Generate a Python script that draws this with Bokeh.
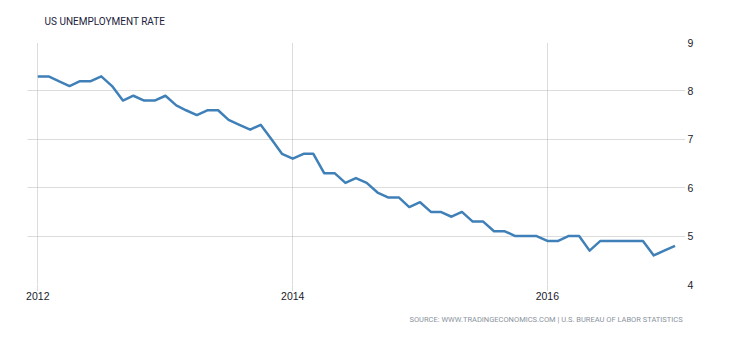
import pandas as pd
from datetime import datetime
from bokeh.plotting import figure
from bokeh.models import Range1d, FixedTicker, Title
from bokeh.embed import file_html
from bokeh.resources import INLINE

# Monthly US unemployment rate, Jan 2012 - Jan 2017
rate = [8.3, 8.3, 8.2, 8.1, 8.2, 8.2, 8.3, 8.1, 7.8, 7.9, 7.8, 7.8,
        7.9, 7.7, 7.6, 7.5, 7.6, 7.6, 7.4, 7.3, 7.2, 7.3, 7.0, 6.7,
        6.6, 6.7, 6.7, 6.3, 6.3, 6.1, 6.2, 6.1, 5.9, 5.8, 5.8, 5.6,
        5.7, 5.5, 5.5, 5.4, 5.5, 5.3, 5.3, 5.1, 5.1, 5.0, 5.0, 5.0,
        4.9, 4.9, 5.0, 5.0, 4.7, 4.9, 4.9, 4.9, 4.9, 4.9, 4.6, 4.7,
        4.8]
months = pd.date_range("2012-01-01", periods=len(rate), freq="MS")

x_tick_years = [2012, 2014, 2016]
x_tick_labels = ["2012", "2014", "2016"]
y_ticks = [4, 5, 6, 7, 8, 9]
y_tick_labels = ["4", "5", "6", "7", "8", "9"]

title_text = "US UNEMPLOYMENT RATE"
source_text = "SOURCE: WWW.TRADINGECONOMICS.COM | U.S.  BUREAU OF LABOR STATISTICS"

W, H = 714, 334
p = figure(width=W, height=H, output_backend="svg", toolbar_location=None,
           x_axis_type="datetime", y_axis_location="right",
           x_range=Range1d(datetime(2011, 12, 2, 12), datetime(2017, 1, 31)),
           y_range=Range1d(4, 9),
           min_border_left=27, min_border_right=29,
           min_border_top=42, min_border_bottom=50)
p.outline_line_color = None
p.background_fill_color = "white"
p.border_fill_color = "white"

grid_col = "#b8b8b8"
p.xgrid.grid_line_color = grid_col
p.xgrid.grid_line_dash = "1 1"
p.ygrid.grid_line_color = grid_col
p.ygrid.grid_line_dash = "1 1"

xticks_ms = [datetime(y, 1, 1).timestamp() * 1000 for y in x_tick_years]
xax = p.xaxis[0]
xax.ticker = FixedTicker(ticks=xticks_ms)
xax.major_label_overrides = {t: l for t, l in zip(xticks_ms, x_tick_labels)}
xax.axis_line_color = None
xax.major_tick_in = 0
xax.major_tick_out = 6
xax.major_tick_line_color = grid_col
xax.major_tick_line_dash = "1 1"
xax.minor_tick_line_color = None
xax.major_label_standoff = 1
xax.major_label_text_font = "Liberation Sans"
xax.major_label_text_font_size = "10.5px"
xax.major_label_text_color = "#1a1a2a"

yax = p.yaxis[0]
yax.ticker = FixedTicker(ticks=y_ticks)
yax.major_label_overrides = {t: l for t, l in zip(y_ticks, y_tick_labels)}
yax.axis_line_color = None
yax.major_tick_in = 0
yax.major_tick_out = 0
yax.minor_tick_line_color = None
yax.major_label_standoff = 2
yax.major_label_text_font = "Liberation Sans"
yax.major_label_text_font_size = "10.5px"
yax.major_label_text_color = "#1a1a2a"

p.line(months, rate, line_color="#4080b8", line_width=2.5, line_join="round")

p.add_layout(Title(text=title_text, align="left", offset=17, standoff=28,
                   vertical_align="top",
                   text_font="Roboto", text_font_size="10px",
                   text_font_style="normal", text_color="#1c1c3c"), "above")
p.add_layout(Title(text=source_text, align="right", offset=1, standoff=20,
                   text_font="Roboto", text_font_size="7.5px",
                   text_font_style="normal", text_color="#8a939c"), "below")

open("out.html", "w").write(file_html(p, INLINE))
